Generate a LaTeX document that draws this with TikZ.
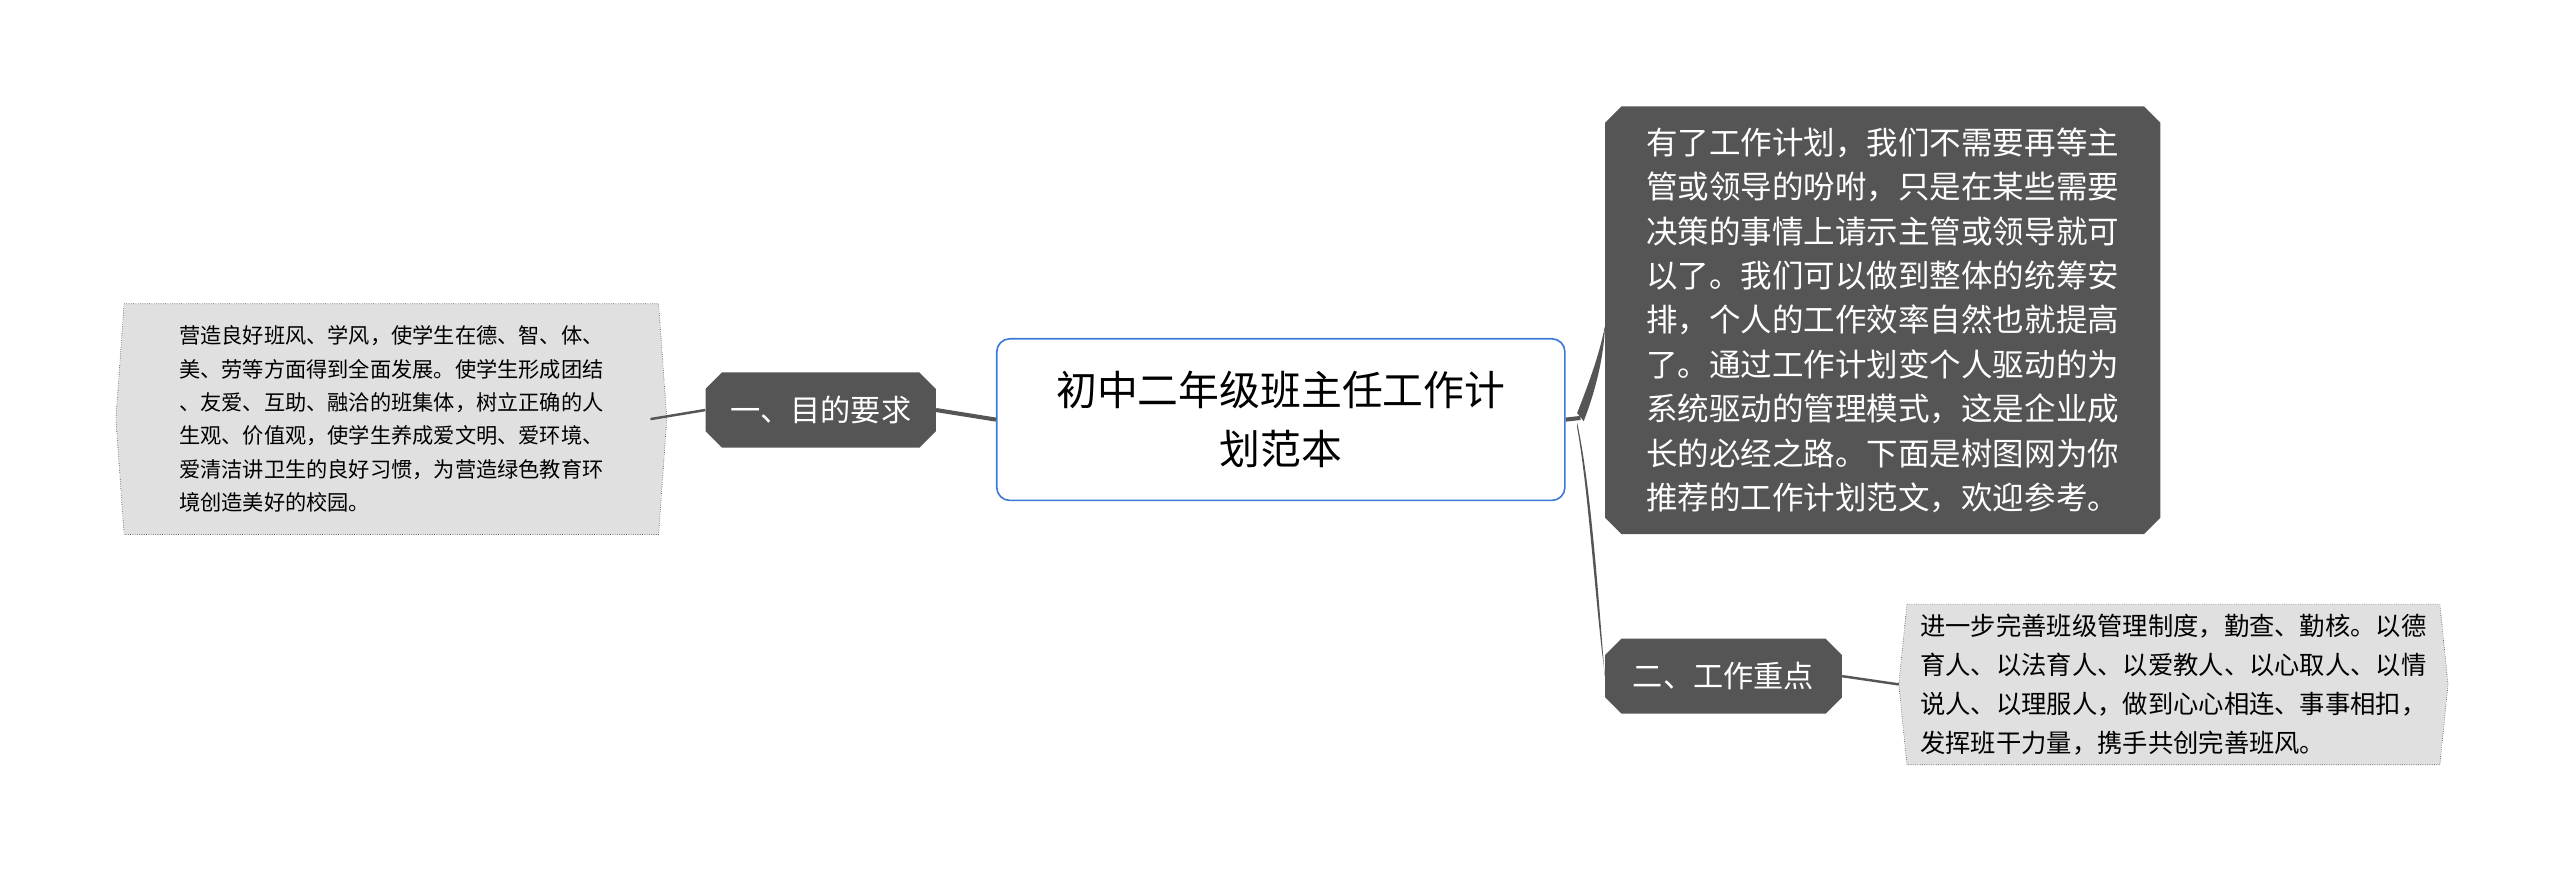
\documentclass[tikz,border=0pt]{standalone}
\usepackage{fontspec}
\setmainfont{Noto Sans CJK SC}
\usetikzlibrary{shapes.misc}
\definecolor{dk}{HTML}{555555}
\definecolor{lf}{HTML}{E0E0E0}
\definecolor{bl}{HTML}{3D7AD6}
\tikzset{
 dkbox/.style={chamfered rectangle,chamfered rectangle xsep=5pt,chamfered rectangle ysep=5pt,fill=dk,text=white,inner sep=0pt,anchor=north west},
 leaftext/.style={inner sep=0pt,align=left,anchor=north west},
 conn/.style={draw=dk,line width=2.5pt},
}
\begin{document}
\begin{tikzpicture}[x=1pt,y=-1pt]
\useasboundingbox[fill=white] (0,0) rectangle (1568,539);
% central
\node[draw=bl,line width=1pt,rounded corners=8pt,fill=white,minimum width=348pt,minimum height=99pt,anchor=north west,align=center,font=\fontsize{25}{36}\selectfont] (c) at (610,207) {初中二年级班主任工作计\\划范本};
% left
\node[dkbox,minimum width=141pt,minimum height=46pt,font=\fontsize{18.5}{22}\selectfont] (l) at (437,233) {一、目的要求};
\node[leaftext,minimum width=327pt,minimum height=141pt,font=\fontsize{13}{20.4}\selectfont] (ll) at (76,186) {营造良好班风、学风，使学生在德、智、体、\\美、劳等方面得到全面发展。使学生形成团结\\、友爱、互助、融洽的班集体，树立正确的人\\生观、价值观，使学生养成爱文明、爱环境、\\爱清洁讲卫生的良好习惯，为营造绿色教育环\\境创造美好的校园。};
\draw[fill=lf,densely dotted,draw=black!70] (ll.north west) -- (ll.north east) -- ([xshift=5pt]ll.east) -- (ll.south east) -- (ll.south west) -- ([xshift=-5pt]ll.west) -- cycle;
\node[leaftext,minimum width=327pt,minimum height=141pt,font=\fontsize{13}{20.4}\selectfont] at (76,186) {营造良好班风、学风，使学生在德、智、体、\\美、劳等方面得到全面发展。使学生形成团结\\、友爱、互助、融洽的班集体，树立正确的人\\生观、价值观，使学生养成爱文明、爱环境、\\爱清洁讲卫生的良好习惯，为营造绿色教育环\\境创造美好的校园。};
% right
\node[dkbox,minimum width=340pt,minimum height=262pt,align=left,font=\fontsize{19.3}{27.2}\selectfont] (r1) at (988,70) {有了工作计划，我们不需要再等主\\管或领导的吩咐，只是在某些需要\\决策的事情上请示主管或领导就可\\以了。我们可以做到整体的统筹安\\排，个人的工作效率自然也就提高\\了。通过工作计划变个人驱动的为\\系统驱动的管理模式，这是企业成\\长的必经之路。下面是树图网为你\\推荐的工作计划范文，欢迎参考。};
\node[dkbox,minimum width=145pt,minimum height=46pt,font=\fontsize{18.5}{22}\selectfont] (r2) at (988,396) {二、工作重点};
\node[leaftext,minimum width=326pt,minimum height=98pt,font=\fontsize{15.5}{24}\selectfont] (rl) at (1168,370) {进一步完善班级管理制度，勤查、勤核。以德\\育人、以法育人、以爱教人、以心取人、以情\\说人、以理服人，做到心心相连、事事相扣，\\发挥班干力量，携手共创完善班风。};
\draw[fill=lf,densely dotted,draw=black!70] (rl.north west) -- (rl.north east) -- ([xshift=5pt]rl.east) -- (rl.south east) -- (rl.south west) -- ([xshift=-5pt]rl.west) -- cycle;
\node[leaftext,minimum width=326pt,minimum height=98pt,font=\fontsize{15.5}{24}\selectfont] at (1168,370) {进一步完善班级管理制度，勤查、勤核。以德\\育人、以法育人、以爱教人、以心取人、以情\\说人、以理服人，做到心心相连、事事相扣，\\发挥班干力量，携手共创完善班风。};
% connectors
\draw[conn] (c.west) -- (l.east);
\draw[draw=dk,line width=1.5pt] (l.west) -- ([xshift=-5pt]ll.east);
\draw[draw=dk,line width=1.5pt] (r2.east) -- ([xshift=-5pt]rl.west);
\draw[conn] (c.east) -- (968,256);
\fill[dk] (966,253) .. controls (975,230) and (980,215) .. (r1.west |- 0,200) -- (r1.west |- 0,202) .. controls (982,220) and (977,240) .. (970,258) -- cycle;
\fill[dk] (966,259) .. controls (975,300) and (980,380) .. (r2.west) -- ([yshift=2pt]r2.west) .. controls (978,380) and (973,300) .. (966,262) -- cycle;
\end{tikzpicture}
\end{document}
